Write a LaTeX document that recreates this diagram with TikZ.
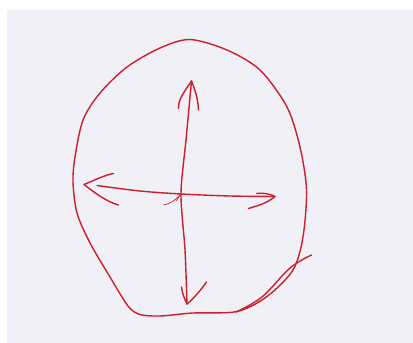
\documentclass[tikz,border=0pt]{standalone}
\begin{document}
\begin{tikzpicture}[x=1pt,y=-1pt,
  pen/.style={draw=penred,line width=1.4pt,line cap=round,line join=round},
  ]
\definecolor{penred}{RGB}{205,30,45}
\definecolor{paper}{RGB}{240,240,246}
\useasboundingbox (0,0) rectangle (413,343);
\fill[white] (0,0) rectangle (413,343);
\fill[paper] (7,10) rectangle (413,343);
% outline
\draw[pen] plot[smooth cycle,tension=0.5] coordinates{
 (190,39.5) (160,48) (127,67) (100,93) (83,120) (75,157) (73,182) (77,213)
 (90,243) (110,277) (128,306) (140,314.5) (160,316) (193,313) (237,311.5) (267,296.5)
 (293,270) (303,237) (306.5,190) (300,147) (287,107) (260,70) (227,50)};
% extra overlapping stroke bottom right
\draw[pen] plot[smooth,tension=0.6] coordinates{(236,312) (262,297) (290,268) (311.5,255)};
% center
\coordinate (c) at (181,194);
\coordinate (t) at (191.5,81);
\coordinate (b) at (187,304);
\coordinate (l) at (84,184.5);
\coordinate (r) at (275,196.5);
% vertical shaft
\draw[pen] plot[smooth,tension=0.5] coordinates{(t) (186,140) (c) (185,250) (b)};
% top head
\draw[pen] (t) .. controls (184,92) and (178,100) .. (178.5,108.5);
\draw[pen] (t) .. controls (196,92) and (198,100) .. (198.5,110);
% bottom head
\draw[pen] (b) .. controls (184,298) and (182,292) .. (181.5,287);
\draw[pen] (b) .. controls (194,298) and (201,290) .. (206.5,282);
% horizontal shaft
\draw[pen] plot[smooth,tension=0.5] coordinates{(97,185.5) (140,191) (c) (230,196) (r)};
% left head
\draw[pen] (l) .. controls (95,180) and (105,175) .. (113.5,173.5);
\draw[pen] (l) .. controls (95,193) and (107,202) .. (118.5,205);
% right head
\draw[pen] (r) .. controls (268,193) and (262,193) .. (256.5,193.5);
\draw[pen] (r) .. controls (266,204) and (256,206) .. (248.5,208.5);
% small scribble at center
\draw[pen,line width=0.7pt] (c) .. controls (176,200) and (170,204) .. (163.5,205);
\draw[pen,line width=0.6pt] (c) -- (176,201);
\end{tikzpicture}
\end{document}
